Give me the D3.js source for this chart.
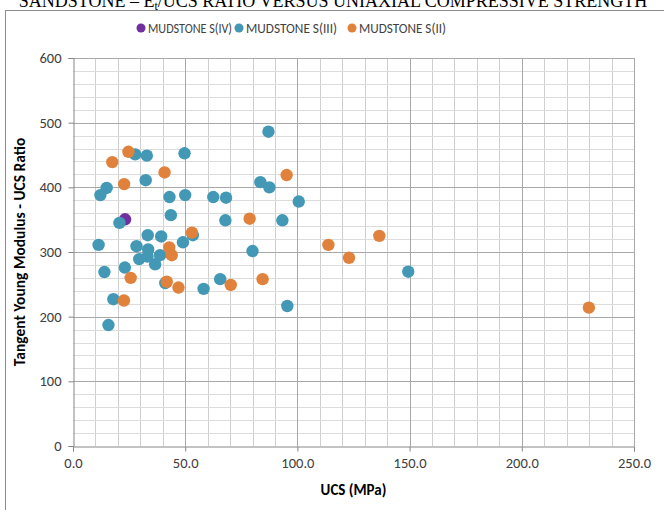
<!DOCTYPE html>
<html>
<head>
<meta charset="utf-8">
<script src="https://cdn.jsdelivr.net/npm/d3@7"></script>
<style>
  body{margin:0;background:#fff;}
  svg{display:block;}
  .tick text{font-family:"Carlito","Liberation Sans Narrow","Liberation Sans",sans-serif;font-size:14.5px;fill:#404040;}
</style>
</head>
<body>
<svg id="chart" width="664" height="510"></svg>
<script>
//数据：每组 [UCS, 比值]
var seriesNames=["MUDSTONE S(IV)","MUDSTONE S(III)","MUDSTONE S(II)"];
var seriesColors=["#7030A0","#4298B5","#E0823B"];

var mudstoneS4=[[23.2,350.6]];

var mudstoneS3=[
  [27.7,451],[32.9,449],[49.7,452.6],[87.1,486],[15.0,399],[12.2,388],
  [32.4,411],[43.0,385],[50.0,388],[62.5,385],[68.2,384],[83.5,408],
  [87.5,400],[100.6,378],[43.6,357],[20.7,345],[67.9,349],[93.3,349],
  [33.3,326],[39.3,324],[53.4,326],[49.0,315],[11.4,311],[28.3,309],
  [33.5,304],[29.5,289],[33.2,293],[38.8,295],[36.6,281],[14.0,269],
  [23.1,276],[41.1,252],[58.2,243],[65.6,258],[80.0,301.5],[149.4,269.5],
  [95.5,216.5],[18.0,227],[15.8,187]
];

var mudstoneS2=[
  [24.7,455],[17.5,439],[40.8,423],[22.8,405],[95.2,419],[78.7,351.5],
  [53.0,330],[42.9,307],[44.0,295],[25.7,260],[41.8,254],[47.0,245],
  [70.3,249],[84.5,258],[22.7,225],[113.8,311],[123.0,291],[136.5,325],
  [229.9,214]
];

var xTicks=[0,50,100,150,200,250];
var yTicks=[0,100,200,300,400,500,600];

var allSeries=[mudstoneS4,mudstoneS3,mudstoneS2];

var svg=d3.select("#chart"),
    margin={top:58,right:30,bottom:64,left:73},
    width=+svg.attr("width")-margin.left-margin.right,
    height=+svg.attr("height")-margin.top-margin.bottom;

var sansFont="'Carlito','Liberation Sans Narrow','Liberation Sans',sans-serif";

//外框
svg.append("rect")
   .attr("x",5.5).attr("y",10.5)
   .attr("width",700).attr("height",520)
   .attr("fill","none").attr("stroke","#8c8c8c").attr("stroke-width",1);

//标题（顶部被截掉一半）
var title=svg.append("text")
   .attr("x",333).attr("y",7)
   .attr("text-anchor","middle")
   .attr("font-family","'Liberation Serif','Times New Roman',serif")
   .attr("font-size",18)
   .attr("fill","#000");
title.append("tspan").text("SANDSTONE \u2013 E");
title.append("tspan").attr("font-size",12).attr("dy",3).text("t");
title.append("tspan").attr("dy",-3).text("/UCS RATIO VERSUS UNIAXIAL COMPRESSIVE STRENGTH");

var g=svg.append("g").attr("transform","translate("+margin.left+","+margin.top+")");

var x=d3.scaleLinear().domain([0,250]).range([0,width]);
var y=d3.scaleLinear().domain([0,600]).range([height,0]);

//次网格
g.append("g").selectAll("line")
  .data(d3.range(10,250,10).filter(function(d){return d%50!==0;}))
  .enter().append("line")
  .attr("x1",function(d){return Math.round(x(d))+0.5;})
  .attr("x2",function(d){return Math.round(x(d))+0.5;})
  .attr("y1",0).attr("y2",height)
  .attr("stroke","#cfcfcf");
g.append("g").selectAll("line")
  .data(d3.range(20,600,20).filter(function(d){return d%100!==0;}))
  .enter().append("line")
  .attr("y1",function(d){return Math.round(y(d))+0.5;})
  .attr("y2",function(d){return Math.round(y(d))+0.5;})
  .attr("x1",0).attr("x2",width)
  .attr("stroke","#dcdcdc");

//主网格
g.append("g").selectAll("line")
  .data(xTicks.slice(1))
  .enter().append("line")
  .attr("x1",function(d){return Math.round(x(d))+0.5;})
  .attr("x2",function(d){return Math.round(x(d))+0.5;})
  .attr("y1",0).attr("y2",height)
  .attr("stroke","#a8a8a8");
g.append("g").selectAll("line")
  .data(yTicks.slice(1))
  .enter().append("line")
  .attr("y1",function(d){return Math.round(y(d))+0.5;})
  .attr("y2",function(d){return Math.round(y(d))+0.5;})
  .attr("x1",0).attr("x2",width)
  .attr("stroke","#a8a8a8");

//坐标轴
var xAxis=d3.axisBottom(x).tickValues(xTicks).tickSize(5).tickPadding(6).tickFormat(d3.format(".1f"));
var yAxis=d3.axisLeft(y).tickValues(yTicks).tickSize(5).tickPadding(7).tickFormat(d3.format("d"));

var gx=g.append("g").attr("transform","translate(0,"+(Math.round(height)+0.5)+")").call(xAxis);
var gy=g.append("g").attr("transform","translate(0.5,0)").call(yAxis);
[gx,gy].forEach(function(a){
  a.select(".domain").attr("stroke","#868686");
  a.selectAll(".tick line").attr("stroke","#868686");
});

//轴标题
svg.append("text")
   .attr("x",margin.left+width/2).attr("y",495)
   .attr("text-anchor","middle")
   .attr("font-family",sansFont)
   .attr("font-size",15).attr("font-weight","bold").attr("fill","#000")
   .text("UCS (MPa)");
svg.append("text")
   .attr("transform","translate(25,"+(margin.top+height/2)+") rotate(-90)")
   .attr("text-anchor","middle")
   .attr("font-family",sansFont)
   .attr("font-size",15.5).attr("font-weight","bold").attr("fill","#000")
   .text("Tangent Young Modulus - UCS Ratio");

//散点
allSeries.forEach(function(s,i){
  g.append("g").selectAll("circle")
    .data(s).enter().append("circle")
    .attr("cx",function(d){return x(d[0]);})
    .attr("cy",function(d){return y(d[1]);})
    .attr("r",6.2)
    .attr("fill",seriesColors[i]);
});

//图例
var legendX=[141,239,352];
var legend=svg.append("g");
seriesNames.forEach(function(n,i){
  var it=legend.append("g").attr("transform","translate("+legendX[i]+",28)");
  it.append("circle").attr("r",4.5).attr("fill",seriesColors[i]);
  it.append("text").attr("x",7).attr("y",5)
    .attr("font-family",sansFont)
    .attr("font-size",14.5).attr("fill","#404040")
    .attr("textLength",[84,91,87][i]).attr("lengthAdjust","spacingAndGlyphs")
    .text(n);
});
</script>
</body>
</html>
